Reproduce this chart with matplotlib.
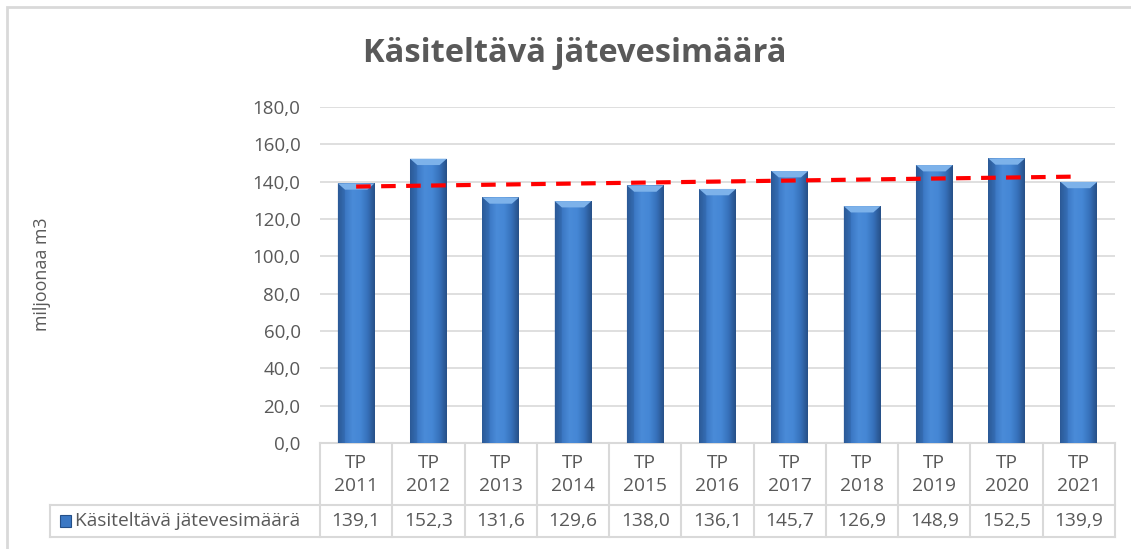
import numpy as np
import matplotlib
matplotlib.use("Agg")
import matplotlib.pyplot as plt
from matplotlib.patches import Rectangle, Polygon
from matplotlib.colors import LinearSegmentedColormap
import matplotlib.transforms as mtransforms

plt.rcParams['font.family'] = ['Open Sans', 'DejaVu Sans']

title = "Käsiteltävä jätevesimäärä"
ylabel = "miljoonaa m3"
series_name = "Käsiteltävä jätevesimäärä"
categories = ["TP\n2011", "TP\n2012", "TP\n2013", "TP\n2014", "TP\n2015", "TP\n2016",
              "TP\n2017", "TP\n2018", "TP\n2019", "TP\n2020", "TP\n2021"]
values = [139.1, 152.3, 131.6, 129.6, 138.0, 136.1, 145.7, 126.9, 148.9, 152.5, 139.9]
yticks = [0, 20, 40, 60, 80, 100, 120, 140, 160, 180]

W, H = 1131, 549
fig = plt.figure(figsize=(W / 100, H / 100), dpi=100)
fig.patch.set_facecolor("white")

# outer chart border
fig.patches.append(Rectangle((7 / W, -0.1), 1.2, 1 - 7 / H + 0.1, transform=fig.transFigure,
                             fill=False, edgecolor="#d9d9d9", linewidth=2))

left, right = 320 / W, 1115 / W
bottom, top = 1 - 443 / H, 1 - 107 / H
ax = fig.add_axes([left, bottom, right - left, top - bottom])

x = np.arange(len(values))
ax.set_xlim(-0.5, len(values) - 0.5)
ax.set_ylim(0, 180)
ax.set_yticks(yticks)
ax.set_yticklabels([f"{v:.1f}".replace(".", ",") for v in yticks], fontsize=13.5, color="#595959")
ax.tick_params(axis="y", length=0, pad=14)
ax.set_xticks([])
for s in ax.spines.values():
    s.set_visible(False)
ax.grid(axis="y", color="#d9d9d9", linewidth=1.2)
ax.set_axisbelow(True)

bw = 0.51
bars = ax.bar(x, values, width=bw, color="#3f7cc6", zorder=2)
cmap = LinearSegmentedColormap.from_list("bev", ["#2a5893", "#3b78c4", "#4a8bd8", "#4587d5", "#3671bb", "#274f86"])
grad = np.linspace(0, 1, 256).reshape(1, -1)
for b, v in zip(bars, values):
    x0 = b.get_x()
    im = ax.imshow(grad, cmap=cmap, aspect="auto", extent=(x0, x0 + bw, 0, v), zorder=2.1)
    im.set_clip_path(b)
    bev = 3.4
    inset = 0.1
    ax.add_patch(Polygon([(x0, v), (x0 + bw, v), (x0 + bw - inset, v - bev), (x0 + inset, v - bev)],
                         closed=True, facecolor="#7db2ea", edgecolor="none", zorder=2.2))
    ax.add_patch(Polygon([(x0, v), (x0 + inset, v - bev), (x0 + inset, 0), (x0, 0)],
                         closed=True, facecolor="#2d5d9c", edgecolor="none", alpha=0.35, zorder=2.2))
ax.set_ylim(0, 180)
ax.set_xlim(-0.5, len(values) - 0.5)

# linear trendline
coef = np.polyfit(x, values, 1)
ax.plot(x, np.polyval(coef, x), color="#ff0000", linestyle=(0, (3.5, 2.5)), linewidth=3, zorder=3)

# title and y-label
fig.text(575 / W, 1 - 54 / H, title, ha="center", va="center", fontsize=23.5, fontweight="bold", color="#595959")
fig.text(42 / W, 1 - 274 / H, ylabel, ha="center", va="center", rotation=90, fontsize=12.8, color="#595959")

# data table
trans = mtransforms.blended_transform_factory(ax.transData, ax.transAxes)
axh = 443 - 107
r1 = -62 / axh
r2 = -94 / axh
lc = "#d9d9d9"
legend_left = -0.5 - (320 - 50) / ((1115 - 320) / len(values))
kw = dict(transform=trans, color=lc, linewidth=1.5, clip_on=False)
ax.plot([-0.5, len(values) - 0.5], [0, 0], **kw)
ax.plot([legend_left, len(values) - 0.5], [r1, r1], **kw)
ax.plot([legend_left, len(values) - 0.5], [r2, r2], **kw)
ax.plot([legend_left, legend_left], [r1, r2], **kw)
for b in np.arange(-0.5, len(values), 1.0):
    ax.plot([b, b], [0, r2], **kw)
fs = 13.8
for xi, c, v in zip(x, categories, values):
    ax.text(xi, r1 / 2 - 0.002, c, transform=trans, ha="center", va="center", fontsize=fs,
            color="#595959", linespacing=1.4, clip_on=False)
    ax.text(xi, (r1 + r2) / 2, f"{v:.1f}".replace(".", ","), transform=trans, ha="center",
            va="center", fontsize=fs, color="#595959", clip_on=False)
ax.text(legend_left + 0.34, (r1 + r2) / 2, series_name, transform=trans, ha="left", va="center",
        fontsize=fs, color="#595959", clip_on=False)
ax.add_patch(Rectangle((legend_left + 0.14, (r1 + r2) / 2 - 0.018), 0.15, 0.036, transform=trans,
                       facecolor="#3b78c4", edgecolor="#244f88", linewidth=0.8, clip_on=False))

fig.savefig("out.png", dpi=100, facecolor="white")
